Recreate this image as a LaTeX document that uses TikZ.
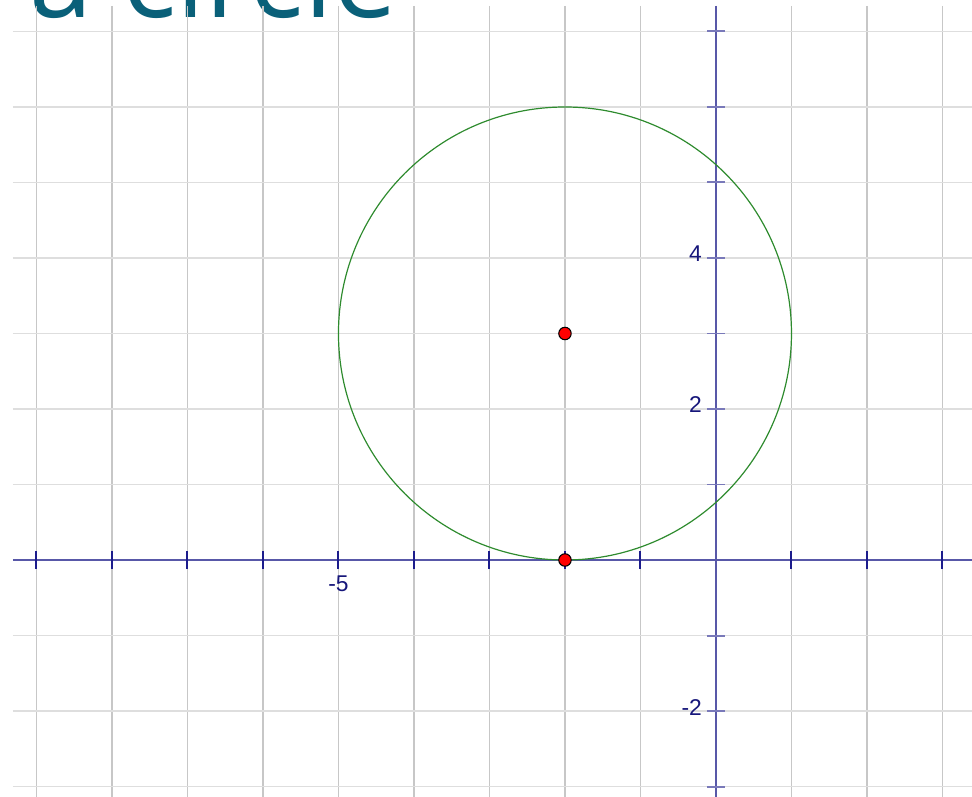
\documentclass[tikz,border=0pt]{standalone}
\usepackage{fontspec}
\setsansfont{Liberation Sans}
\newfontfamily\titlefont{Open Sans}
\definecolor{titleteal}{HTML}{0A6079}
\definecolor{axisblue}{HTML}{5858A8}
\definecolor{tickblue}{HTML}{1C1C8C}
\definecolor{labelblue}{HTML}{16167A}
\definecolor{circlegreen}{HTML}{2E8B2E}
\tikzset{
  gridv/.style={line width=0.7pt, color=black!22},
  gridh/.style={line width=0.7pt, color=black!13},
  axis/.style={line width=0.75pt, color=axisblue},
  xtick/.style={line width=0.75pt, color=tickblue},
  ytick/.style={line width=0.75pt, color=axisblue!80},
  ticklabel/.style={font=\sffamily\fontsize{8.6}{8.6}\selectfont, color=labelblue, inner sep=0pt},
  dot/.style={circle, fill=red, draw=black, line width=0.4pt, minimum size=0.165cm, inner sep=0pt}
}

\begin{document}
\begin{tikzpicture}
\useasboundingbox (-9.483,-3.126) rectangle (3.391,7.417);
\clip (-9.483,-3.126) rectangle (3.391,7.417);

% slide title, cut by the top edge
\node[anchor=base west, inner sep=0pt, text=titleteal, font=\titlefont\fontsize{43}{43}\selectfont]
  (title) at (-9.10,7.19) {a circle};

% grid
\foreach \x in {-9,...,3}
  \draw[gridv] (\x,7.338) -- (\x,-3.2);
\foreach \y in {-3,...,7}
  \draw[gridh] (-9.311,\y) -- (3.5,\y);

% axes
\coordinate (O) at (0,0);
\draw[axis] (-9.311,0) -- (3.5,0);
\draw[axis] (0,7.338) -- (0,-3.2);
\foreach \x in {-9,...,-1,1,2,3}
  \draw[xtick] (\x,-0.12) -- (\x,0.12);
\foreach \y in {-3,...,-1,1,2,...,7}
  \draw[ytick] (-0.12,\y) -- (0.12,\y);

\node[ticklabel, anchor=north] (lx5) at (-5,-0.2) {-5};
\node[ticklabel, anchor=east] (ly4) at (-0.18,4.06) {4};
\node[ticklabel, anchor=east] (ly2) at (-0.18,2.06) {2};
\node[ticklabel, anchor=east] (lym2) at (-0.18,-1.96) {-2};

% circle through (-2,0) with centre (-2,3)
\coordinate (C) at (-2,3);
\draw[circlegreen, line width=0.45pt] (C) circle (3);
\node[dot] (centre) at (C) {};
\node[dot] (foot) at (-2,0) {};

\end{tikzpicture}
\end{document}
